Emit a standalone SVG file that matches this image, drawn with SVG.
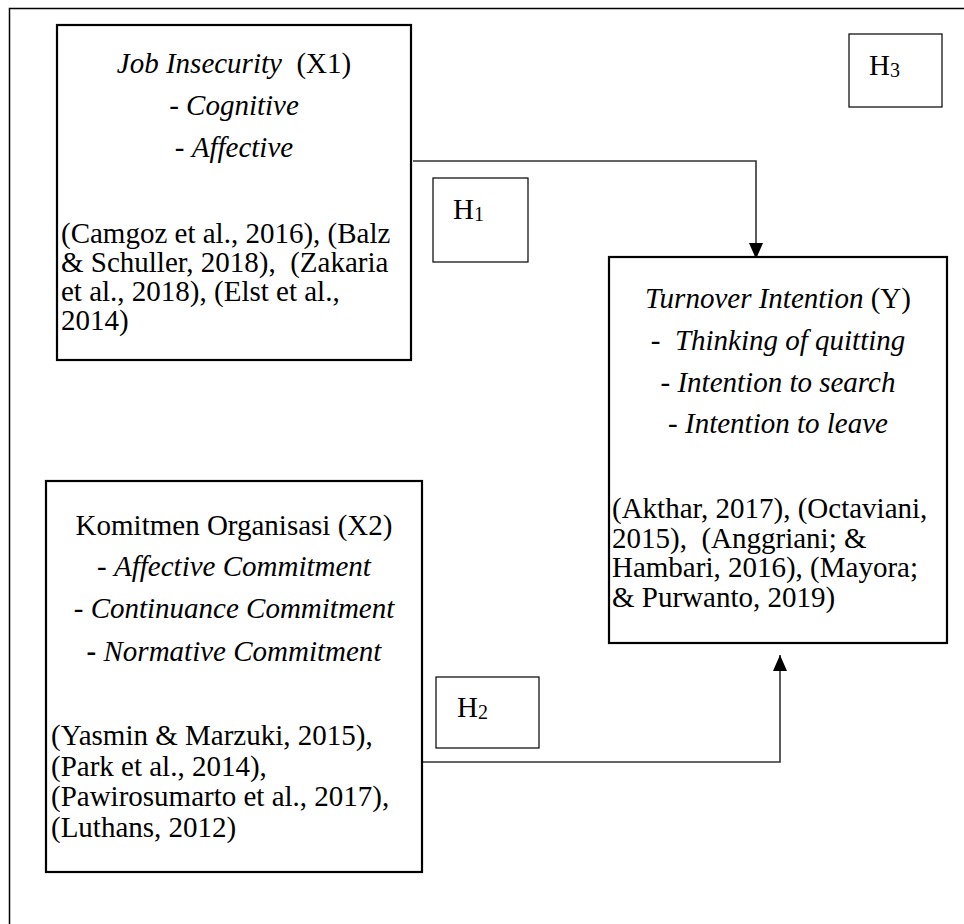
<svg xmlns="http://www.w3.org/2000/svg" width="964" height="924" viewBox="0 0 964 924">
<style>
text{font-family:"Liberation Serif","Times New Roman","DejaVu Serif",serif;font-size:29px;fill:#000}
.c{text-anchor:middle}
.i{font-style:italic}
.node{fill:#fff;stroke:#000;stroke-width:2.2}
.hbox{fill:#fff;stroke:#000;stroke-width:1.2}
.conn{fill:none;stroke:#333;stroke-width:1.6}
.sub{font-size:20px}
</style>
<defs>
<marker id="arr" viewBox="0 0 16 14" refX="16" refY="7" markerWidth="16" markerHeight="14" markerUnits="userSpaceOnUse" orient="auto">
<path d="M0,0 L16,7 L0,14 Z" fill="#000"/>
</marker>
</defs>
<rect width="964" height="924" fill="#fff"/>
<g id="frame">
<path d="M9.5,930 V8.5 H970" fill="none" stroke="#000" stroke-width="1.5"/>
</g>
<g id="connectors">
<path class="conn" d="M413,161 H756 V259" marker-end="url(#arr)"/>
<path class="conn" d="M423,762 H780 V655" marker-end="url(#arr)"/>
</g>
<g id="X1">
<rect class="node" x="57" y="25" width="354" height="335"/>
<text class="c" x="234" y="73" xml:space="preserve"><tspan class="i">Job Insecurity</tspan>  (X1)</text>
<text class="c" x="234" y="115">- <tspan class="i">Cognitive</tspan></text>
<text class="c" x="234" y="157">- <tspan class="i">Affective</tspan></text>
<text x="61" y="243">(Camgoz et al., 2016), (Balz</text>
<text x="61" y="272" xml:space="preserve">&amp; Schuller, 2018),  (Zakaria</text>
<text x="61" y="301">et al., 2018), (Elst et al.,</text>
<text x="61" y="330">2014)</text>
</g>
<g id="H1">
<rect class="hbox" x="433" y="178" width="95" height="84"/>
<text x="453" y="219">H<tspan class="sub" dy="2">1</tspan></text>
</g>
<g id="H3">
<rect class="hbox" x="849" y="34" width="93" height="73"/>
<text x="869" y="75">H<tspan class="sub" dy="2">3</tspan></text>
</g>
<g id="Y">
<rect class="node" x="609" y="257" width="338" height="386"/>
<text class="c" x="778" y="308"><tspan class="i">Turnover Intention</tspan> (Y)</text>
<text class="c" x="778" y="350" xml:space="preserve">-  <tspan class="i">Thinking of quitting</tspan></text>
<text class="c" x="778" y="392">- <tspan class="i">Intention to search</tspan></text>
<text class="c" x="778" y="433">- <tspan class="i">Intention to leave</tspan></text>
<text x="612" y="518">(Akthar, 2017), (Octaviani,</text>
<text x="612" y="548" xml:space="preserve">2015),  (Anggriani; &amp;</text>
<text x="612" y="577">Hambari, 2016), (Mayora;</text>
<text x="612" y="607">&amp; Purwanto, 2019)</text>
</g>
<g id="X2">
<rect class="node" x="46" y="481" width="376" height="391"/>
<text class="c" x="234" y="535">Komitmen Organisasi (X2)</text>
<text class="c" x="234" y="576">- <tspan class="i">Affective Commitment</tspan></text>
<text class="c" x="234" y="618">- <tspan class="i">Continuance Commitment</tspan></text>
<text class="c" x="234" y="661"><tspan font-weight="bold">-</tspan> <tspan class="i">Normative Commitment</tspan></text>
<text x="51" y="745">(Yasmin &amp; Marzuki, 2015),</text>
<text x="51" y="776">(Park et al., 2014),</text>
<text x="51" y="806">(Pawirosumarto et al., 2017),</text>
<text x="51" y="837">(Luthans, 2012)</text>
</g>
<g id="H2">
<rect class="hbox" x="436" y="677" width="103" height="71"/>
<text x="457" y="717">H<tspan class="sub" dy="2">2</tspan></text>
</g>
</svg>
